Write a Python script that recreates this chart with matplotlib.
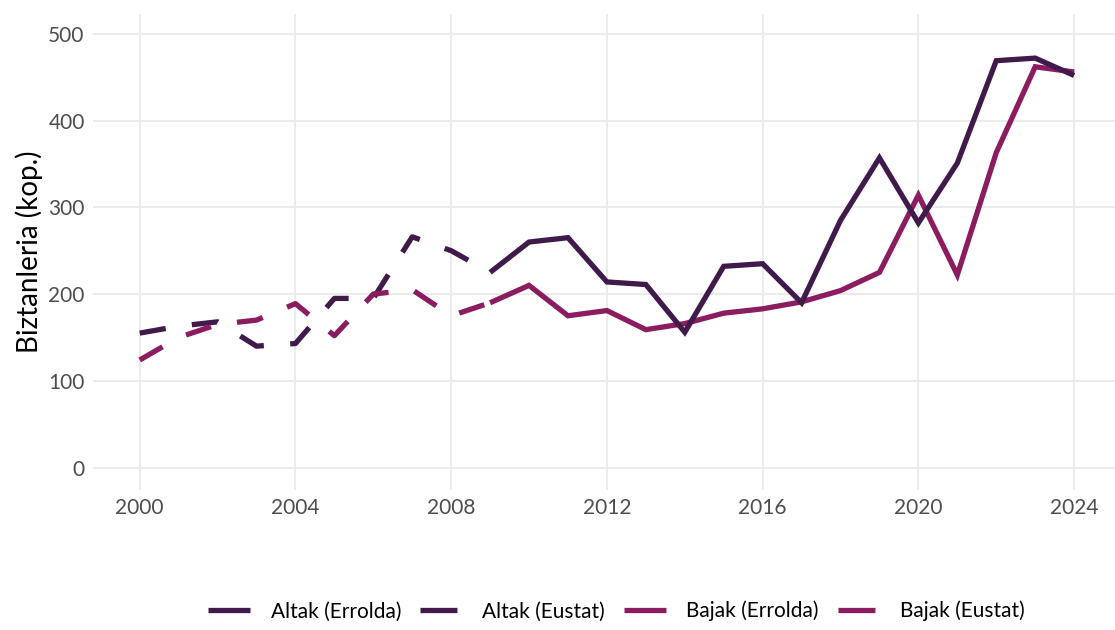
import matplotlib.pyplot as plt
from matplotlib.lines import Line2D

# =========================================================
# DATA
# =========================================================

years_eustat = [2000, 2001, 2002, 2003, 2004, 2005, 2006, 2007, 2008, 2009]
altak_eustat = [155, 163, 168, 140, 143, 195, 195, 266, 250, 225]
bajak_eustat = [124, 150, 165, 170, 189, 152, 200, 205, 175, 190]

years_errolda = [2009, 2010, 2011, 2012, 2013, 2014, 2015, 2016,
                 2017, 2018, 2019, 2020, 2021, 2022, 2023, 2024]
altak_errolda = [225, 260, 265, 214, 211, 156, 232, 235,
                 190, 285, 357, 282, 351, 469, 472, 452]
bajak_errolda = [190, 210, 175, 181, 159, 166, 178, 183,
                 191, 204, 225, 314, 222, 363, 462, 456]

legend_labels = ["Altak (Errolda)", "Altak (Eustat)", "Bajak (Errolda)", "Bajak (Eustat)"]

# =========================================================
# STYLE
# =========================================================

plt.rcParams['font.family'] = ['Lato', 'DejaVu Sans']

dark = "#3f1a4b"
magenta = "#8a1c5f"
lw = 3.8
dash = (5, 5)

fig = plt.figure(figsize=(11.15, 6.3), dpi=100)
ax = fig.add_axes([0.0834, 0.222, 0.9166, 0.756])

# =========================================================
# LINES
# =========================================================

ax.plot(years_eustat, altak_eustat, color=dark, lw=lw, dashes=dash,
        dash_capstyle='butt')
ax.plot(years_eustat, bajak_eustat, color=magenta, lw=lw, dashes=dash,
        dash_capstyle='butt')
ax.plot(years_errolda, bajak_errolda, color=magenta, lw=lw,
        solid_capstyle='butt', solid_joinstyle='miter')
ax.plot(years_errolda, altak_errolda, color=dark, lw=lw,
        solid_capstyle='butt', solid_joinstyle='miter')

# =========================================================
# AXES
# =========================================================

ax.set_xlim(1998.8, 2025.05)
ax.set_ylim(-26, 523)
ax.set_xticks(range(2000, 2025, 4))
ax.set_yticks(range(0, 501, 100))

for s in ax.spines.values():
    s.set_visible(False)

ax.tick_params(length=0, labelsize=15, labelcolor="#4d4d4d", pad=6)
ax.grid(True, color="#ebebeb", linewidth=1.5)
ax.set_axisbelow(True)

ax.set_ylabel("Biztanleria (kop.)", fontsize=20, color="black", labelpad=4)

# =========================================================
# LEGEND
# =========================================================

handles = [
    Line2D([], [], color=dark, lw=lw, linestyle='-', solid_capstyle='butt'),
    Line2D([], [], color=dark, lw=lw, dashes=(7, 3), dash_capstyle='butt'),
    Line2D([], [], color=magenta, lw=lw, linestyle='-', solid_capstyle='butt'),
    Line2D([], [], color=magenta, lw=lw, dashes=(7, 3), dash_capstyle='butt'),
]

fig.legend(handles, legend_labels, loc='center', bbox_to_anchor=(0.553, 0.03),
           ncol=4, frameon=False, fontsize=15, handlelength=2.0,
           columnspacing=0.9, handletextpad=1.0)

plt.savefig("out.png", dpi=100)
